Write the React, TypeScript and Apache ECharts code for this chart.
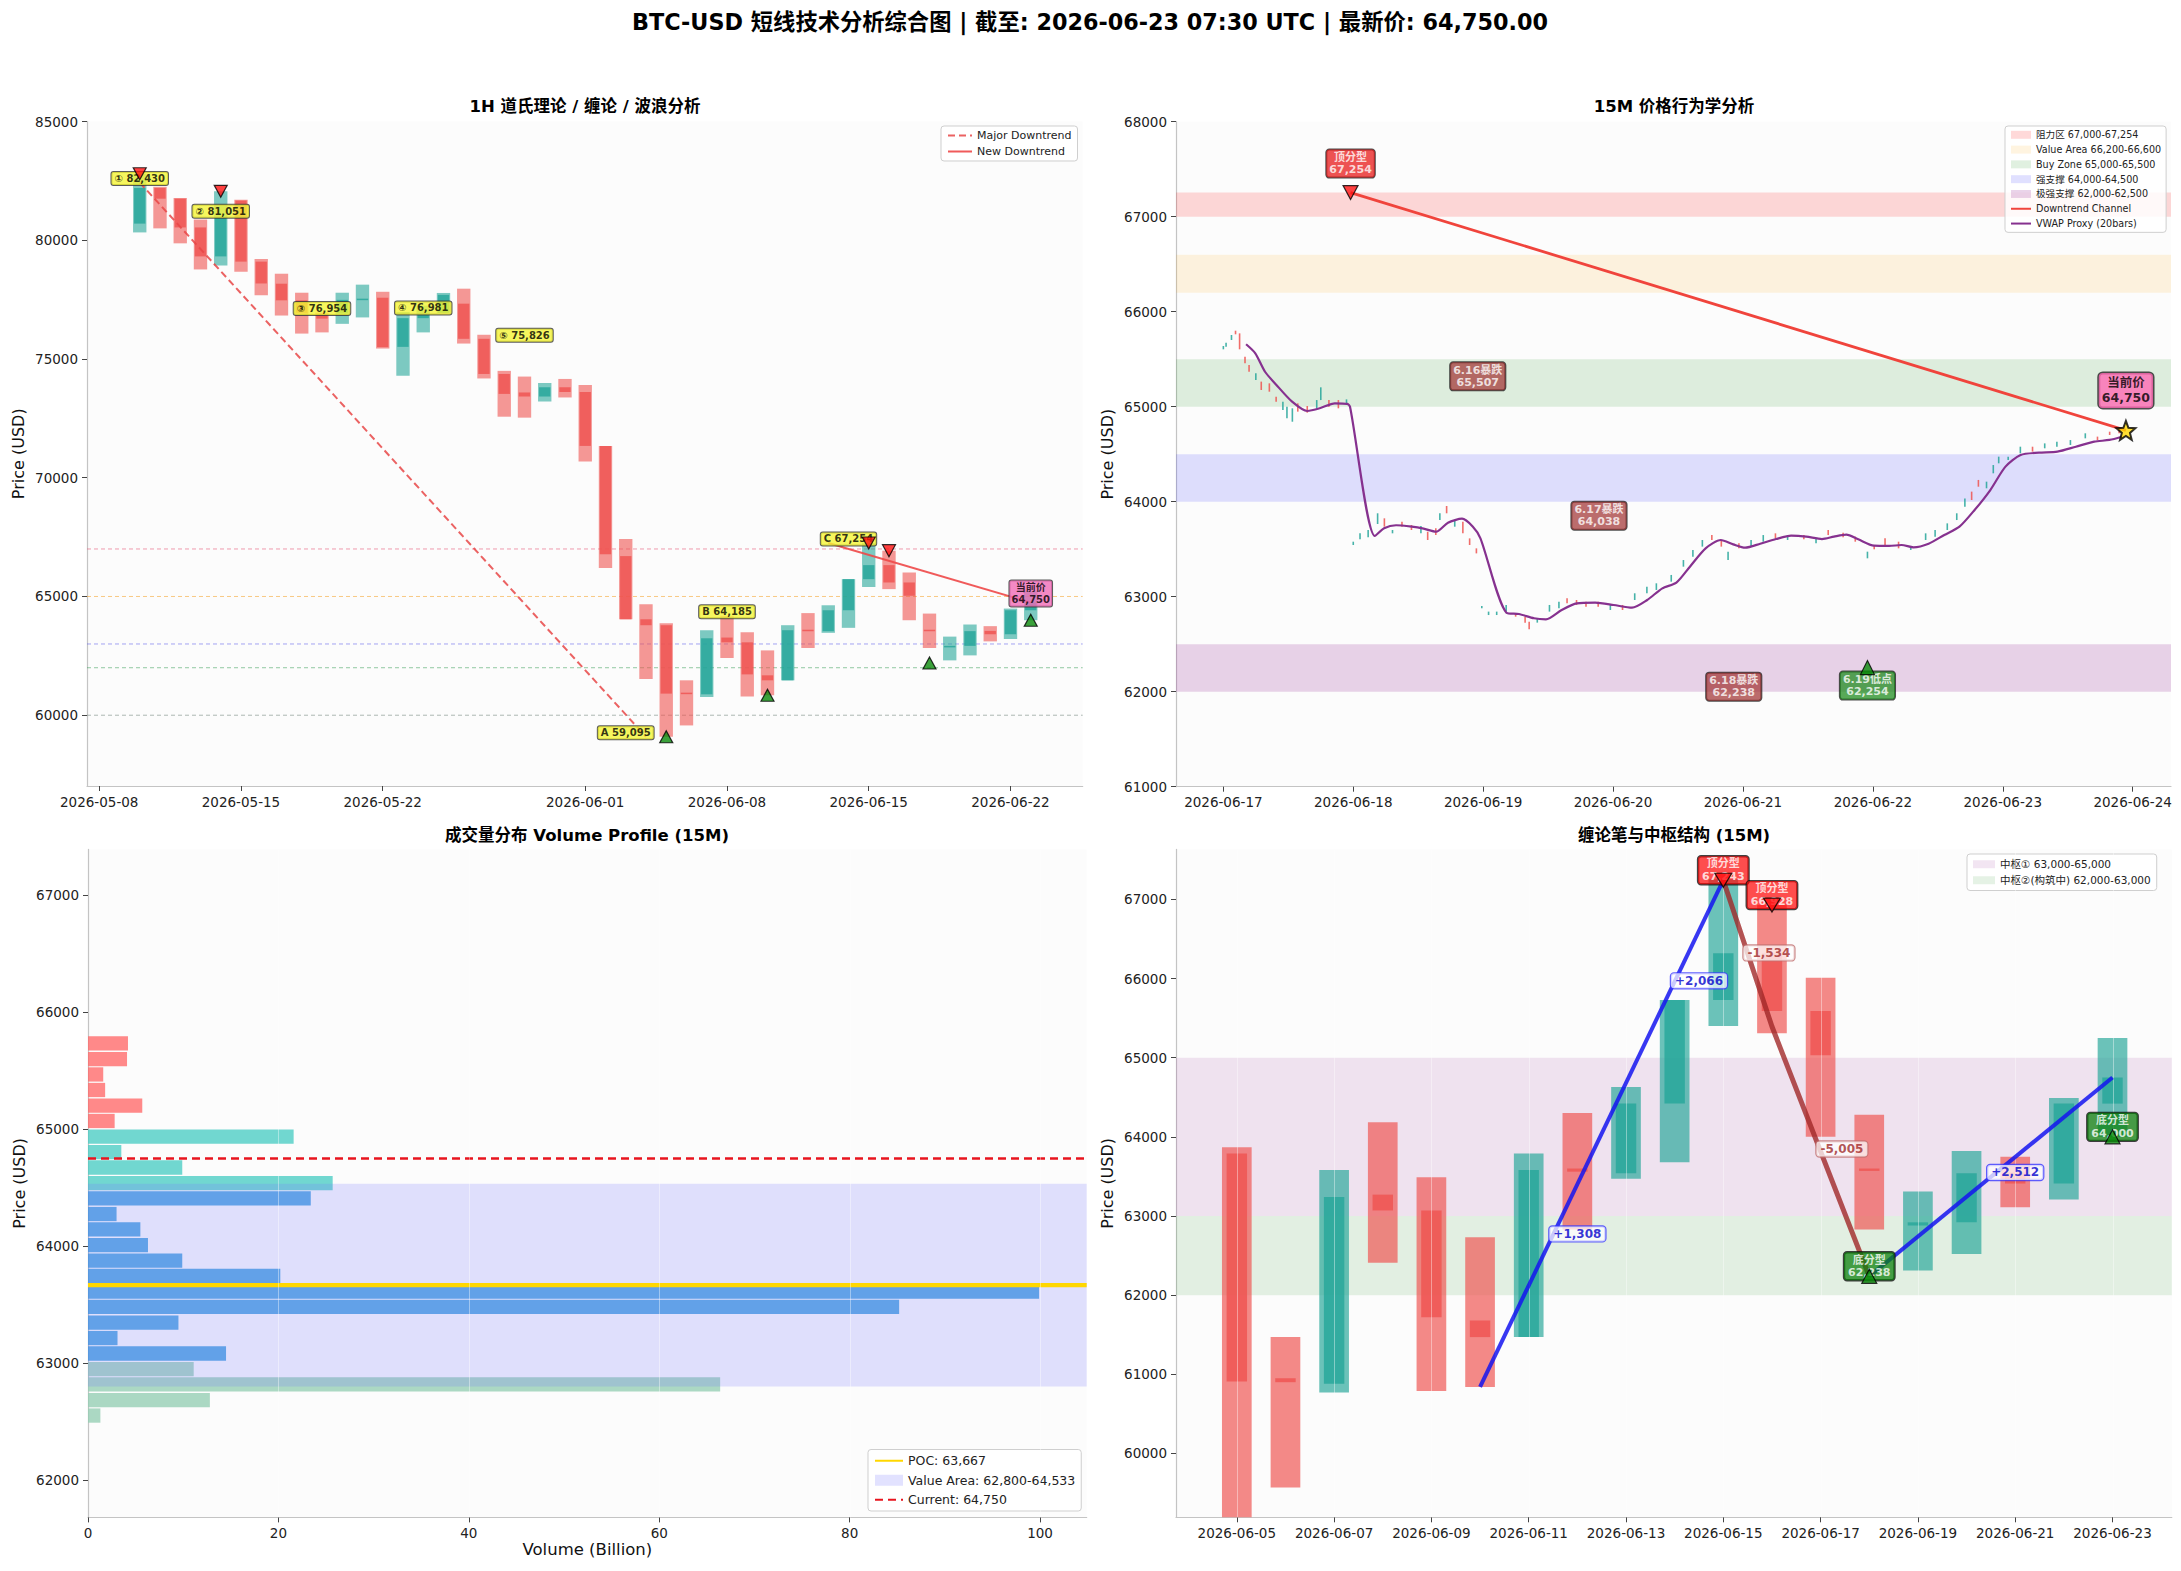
import React, { useEffect, useRef } from 'react';
import * as echarts from 'echarts';

const FONT = "'DejaVu Sans', 'Noto Sans CJK SC', sans-serif";

// ---------------- 1H panel: one candle per session ----------------
const dailyDates = [
  '2026-05-10', '2026-05-11', '2026-05-12', '2026-05-13', '2026-05-14', '2026-05-15', '2026-05-16', '2026-05-17',
  '2026-05-18', '2026-05-19', '2026-05-20', '2026-05-21', '2026-05-22', '2026-05-23', '2026-05-24', '2026-05-25',
  '2026-05-26', '2026-05-27', '2026-05-28', '2026-05-29', '2026-05-30', '2026-05-31', '2026-06-01', '2026-06-02',
  '2026-06-03', '2026-06-04', '2026-06-05', '2026-06-06', '2026-06-07', '2026-06-08', '2026-06-09', '2026-06-10',
  '2026-06-11', '2026-06-12', '2026-06-13', '2026-06-14', '2026-06-15', '2026-06-16', '2026-06-17', '2026-06-18',
  '2026-06-19', '2026-06-20', '2026-06-21', '2026-06-22', '2026-06-23',
];
const dailyOpen = [
  80700, 82200, 81750, 80540, 79320, 81670, 79100, 78170, 77470, 76900, 76930, 77500, 77580, 75510, 76720, 76940,
  77330, 75850, 74370, 73590, 73420, 73810, 73610, 71340, 66700, 64040, 63790, 60950, 60880, 63270, 63070, 61680,
  61470, 63600, 63540, 64420, 65730, 66320, 65590, 63600, 62880, 62920, 63550, 63410, 64420,
];
const dailyClose = [
  82200, 81750, 80540, 79320, 80940, 79100, 78180, 77470, 76950, 76700, 77490, 77540, 75500, 76720, 76860, 77700,
  75850, 74370, 73530, 73420, 73810, 73610, 71340, 66780, 64040, 63790, 60910, 60900, 63240, 63070, 61720, 61470,
  63580, 63560, 64420, 65730, 66320, 65590, 65030, 63570, 62920, 63540, 63410, 64420, 64750,
];
const dailyHigh = [
  82800, 82250, 81780, 80870, 82060, 81700, 79210, 78590, 77790, 76950, 77790, 78130, 77830, 76980, 77250, 77780,
  77960, 76020, 74500, 74260, 73990, 74160, 73910, 71340, 67420, 64670, 63870, 61470, 63580, 64185, 63490, 62730,
  63790, 64300, 64630, 65730, 67254, 66928, 66010, 64280, 63310, 63820, 63750, 64490, 65250,
];
const dailyLow = [
  80330, 80500, 79870, 78770, 78940, 78670, 77680, 76830, 76070, 76120, 76480, 76750, 75440, 74290, 76120, 76940,
  75650, 74180, 72570, 72530, 73210, 73380, 70680, 66200, 64040, 61530, 59095, 59570, 60770, 62410, 60790, 60840,
  61470, 62830, 63470, 63680, 65400, 65310, 64000, 62830, 62310, 62520, 63110, 63210, 64000,
];

const refLevels = [67000, 65000, 63000, 62000, 60000];
const waveTags = ['①', '②', '③', '④', '⑤', 'A', 'B', 'C'];
const waveDates = ['2026-05-10', '2026-05-14', '2026-05-19', '2026-05-24', '2026-05-29', '2026-06-03', '2026-06-08', '2026-06-14'];
const wavePrices = [82430, 81051, 76954, 76981, 75826, 59095, 64185, 67254];
const swingHighDates = ['2026-05-10', '2026-05-14', '2026-06-15', '2026-06-16'];
const swingHighPrices = [82800, 82060, 67254, 66928];
const swingLowDates = ['2026-06-05', '2026-06-10', '2026-06-18', '2026-06-23'];
const swingLowPrices = [59095, 60840, 62200, 64000];
const majorTrend: [string, number][] = [['2026-05-10', 82430], ['2026-06-04', 59095]];
const newTrend: [string, number][] = [['2026-06-13', 67254], ['2026-06-23', 64750]];
const LAST_DATE = '2026-06-23';
const LAST_PRICE = 64750;

// ---------------- 15M panel ----------------
const LTF_START = '2026-06-17 00:00';
// [hours from LTF_START, open, close]
const ltfBars: [number, number, number][] = [
  [0, 65604, 65639], [0.5, 65632, 65674], [1.5, 65702, 65755], [2.25, 65800, 65762], [3, 65772, 65604],
  [4, 65527, 65457], [4.75, 65439, 65369], [6, 65281, 65351], [7, 65264, 65176], [8.5, 65246, 65158],
  [9.75, 65106, 65053], [11, 64965, 65053], [11.75, 64878, 65000], [12.75, 64842, 64983], [13.75, 65035, 64948],
  [15.5, 65007, 64937], [17.25, 64983, 65070], [18, 65070, 65204], [19.5, 65070, 65000], [21.25, 65070, 64983],
  [22.75, 65028, 65077], [24, 63544, 63579], [25.25, 63604, 63667], [26.75, 63625, 63702], [28.5, 63765, 63878],
  [29.75, 63825, 63737], [31.25, 63667, 63702], [33, 63790, 63737], [34.75, 63755, 63702], [36.5, 63667, 63744],
  [37.75, 63684, 63597], [39.25, 63720, 63649], [40, 63807, 63878], [41.25, 63955, 63878], [42.75, 63737, 63807],
  [44.25, 63790, 63667], [45.5, 63614, 63544], [46.75, 63509, 63456], [47.75, 62878, 62902], [49, 62807, 62843],
  [50.5, 62807, 62843], [52.25, 62843, 62913], [54, 62825, 62790], [55.75, 62790, 62727], [56.5, 62737, 62657],
  [58, 62727, 62772], [60.25, 62843, 62913], [62, 62878, 62948], [63.5, 62983, 62930], [65.25, 62965, 62913],
  [67, 62948, 62895], [69.25, 62948, 62895], [71.5, 62860, 62913], [73.75, 62913, 62860], [76, 62965, 63036],
  [78.25, 63036, 63106], [80, 63071, 63141], [82.75, 63158, 63229], [85, 63316, 63386], [86.75, 63421, 63492],
  [88.5, 63527, 63597], [90.25, 63649, 63597], [92, 63597, 63527], [93.25, 63386, 63474], [95.25, 63562, 63509],
  [97.5, 63527, 63597], [99.75, 63579, 63649], [102, 63667, 63614], [104.25, 63597, 63649], [107.25, 63649, 63604],
  [109.5, 63562, 63614], [111.75, 63702, 63649], [114.5, 63674, 63625], [116.75, 63632, 63579], [119, 63404, 63474],
  [120.25, 63544, 63499], [122.25, 63614, 63544], [124.75, 63579, 63509], [127, 63492, 63534], [129.75, 63597, 63667],
  [131.5, 63632, 63702], [133.75, 63702, 63772], [135.5, 63807, 63878], [137, 63948, 64035], [138.25, 64106, 64018],
  [139.5, 64229, 64158], [141, 64141, 64211], [142.25, 64299, 64386], [143.25, 64404, 64474], [145, 64439, 64474],
  [147.25, 64509, 64579], [149.5, 64579, 64527], [151.75, 64562, 64614], [154, 64579, 64632], [156.5, 64597, 64649],
  [159.25, 64667, 64720], [161.5, 64685, 64649], [163.75, 64737, 64702], [165.5, 64772, 64720],
];
// [hours from LTF_START, value]
const vwapProxy: [number, number][] = [
  [4.2, 65657], [5.9, 65562], [7.7, 65368], [9.8, 65229], [12.7, 65053], [15.5, 64955], [17.8, 64983], [20.6, 65036],
  [22.9, 65029], [23.4, 65000], [28.0, 63639], [29.7, 63720], [31.9, 63752], [34.8, 63737], [37.0, 63716], [39.3, 63684],
  [41.5, 63779], [44.1, 63821], [46.1, 63737], [47.5, 63615], [52.3, 62832], [54.6, 62818], [57.4, 62773], [59.6, 62762],
  [62.5, 62860], [65.3, 62930], [68.7, 62937], [72.1, 62913], [75.5, 62884], [78.3, 62965], [81.1, 63088], [83.7, 63148],
  [86.2, 63316], [89.1, 63509], [91.9, 63597], [94.2, 63551], [96.4, 63516], [99.2, 63558], [102.1, 63607], [104.9, 63642],
  [107.7, 63632], [110.6, 63607], [112.8, 63632], [115.1, 63653], [117.3, 63604], [120.2, 63537], [123.0, 63534], [125.3, 63544],
  [127.5, 63520], [130.3, 63558], [133.2, 63650], [136.0, 63737], [138.8, 63913], [141.7, 64123], [144.5, 64369], [147.3, 64492],
  [150.7, 64516], [154.1, 64527], [157.5, 64579], [160.9, 64632], [163.7, 64650], [166.0, 64684],
];
const zoneNames = ['阻力区 67,000-67,254', 'Value Area 66,200-66,600', 'Buy Zone 65,000-65,500', '强支撑 64,000-64,500', '极强支撑 62,000-62,500'];
const zoneLow = [67000, 66200, 65000, 64000, 62000];
const zoneHigh = [67254, 66600, 65500, 64500, 62500];
const ltfTop: [number, number] = [23.5, 67254];
const ltfLow: [number, number] = [119, 62254];
const ltfLast: [number, number] = [166.75, 64750];
const crashTitles = ['6.16暴跌', '6.17暴跌', '6.18暴跌'];
const crashPrices = [65507, 64038, 62238];
const crashNoteAt: [number, number][] = [[47, 65320], [69.4, 63853], [94.3, 62053]];

// ---------------- Volume profile ----------------
const profilePrices = [
  65734, 65601, 65469, 65336, 65203, 65071, 64938, 64805, 64673, 64540, 64408, 64275, 64143,
  64010, 63877, 63745, 63612, 63480, 63347, 63214, 63082, 62949, 62817, 62684, 62551,
];
const profileVolumes = [
  4.2, 4.1, 1.6, 1.8, 5.7, 2.8, 21.6, 3.5, 9.9, 25.7, 23.4, 3.0, 5.5,
  6.3, 9.9, 20.2, 99.9, 85.2, 9.5, 3.1, 14.5, 11.1, 66.4, 12.8, 1.3,
];
const PROFILE_BIN = 132.6;
const POC = 63667;
const VA_LOW = 62800;
const VA_HIGH = 64533;
const RESIST_LINE = 65000;
const SUPPORT_LINE = 63000;

// ---------------- Chan structure panel ----------------
const CHAN_FROM = '2026-06-05';
const pivotNames = ['中枢① 63,000-65,000', '中枢②(构筑中) 62,000-63,000'];
const pivotLow = [63000, 62000];
const pivotHigh = [65000, 63000];
const biUp1: [string, number][] = [['2026-06-10', 60840], ['2026-06-15', 67243]];
const biDown: [string, number][] = [['2026-06-15', 67243], ['2026-06-16', 65394], ['2026-06-18', 62238]];
const biUp2: [string, number][] = [['2026-06-18', 62238], ['2026-06-23', 64750]];
const topFxDates = ['2026-06-15', '2026-06-16'];
const topFxPrices = [67243, 66928];
const botFxDates = ['2026-06-18', '2026-06-23'];
const botFxPrices = [62238, 64000];
const biMoves = [1308, 2066, -1534, -5005, 2512];
const biMoveAt: [string, number][] = [
  ['2026-06-12 00:00', 62774], ['2026-06-14 12:00', 65971], ['2026-06-15 22:30', 66324],
  ['2026-06-17 10:30', 63846], ['2026-06-21 00:00', 63550],
];

// ---------------- axes ----------------
const p1XTicks = ['2026-05-08', '2026-05-15', '2026-05-22', '2026-06-01', '2026-06-08', '2026-06-15', '2026-06-22'];
const p1YTicks = [60000, 65000, 70000, 75000, 80000, 85000];
const p2XTicks = ['2026-06-17', '2026-06-18', '2026-06-19', '2026-06-20', '2026-06-21', '2026-06-22', '2026-06-23', '2026-06-24'];
const p2YTicks = [61000, 62000, 63000, 64000, 65000, 66000, 67000, 68000];
const p3XTicks = [0, 20, 40, 60, 80, 100];
const p3YTicks = [62000, 63000, 64000, 65000, 66000, 67000];
const p4XTicks = ['2026-06-05', '2026-06-07', '2026-06-09', '2026-06-11', '2026-06-13', '2026-06-15', '2026-06-17', '2026-06-19', '2026-06-21', '2026-06-23'];
const p4YTicks = [60000, 61000, 62000, 63000, 64000, 65000, 66000, 67000];

const day = (s: string): number => {
  const [d, t] = s.split(' ');
  const [Y, M, D] = d.split('-').map(Number);
  const [h, m] = t ? t.split(':').map(Number) : [0, 0];
  return Date.UTC(Y, M - 1, D, h, m) / 86400000;
};
const fmtDay = (v: number) => new Date(Math.round(v * 86400000)).toISOString().slice(0, 10);
const fmtNum = (v: number) => v.toLocaleString('en-US');
const ltfDay = (h: number) => day(LTF_START) + h / 24;

const P1_X = [day('2026-05-07 09:30'), day('2026-06-25 13:35')];
const P1_Y = [57020, 85000];
const P2_X = [day('2026-06-16 15:15'), day('2026-06-24 07:05')];
const P2_Y = [61000, 68000];
const P3_X = [0, 104.9];
const P3_Y = [61680, 67394];
const P4_X = [day('2026-06-03 18:00'), day('2026-06-24 05:15')];
const P4_Y = [59193, 67632];

const TEAL = '38,166,154';
const RED = '239,83,80';

function candleRender(bodyW: number, rangeW: number, outerA: number, innerA: number) {
  return (params: any, api: any) => {
    const x = api.value(0), o = api.value(1), c = api.value(2), l = api.value(3), h = api.value(4);
    const cs = params.coordSys;
    const top = Math.max(api.coord([x, h])[1], cs.y);
    const bot = Math.min(api.coord([x, l])[1], cs.y + cs.height);
    const cx = api.coord([x, o])[0];
    const yo = api.coord([x, o])[1];
    const yc = api.coord([x, c])[1];
    const wR = api.size([rangeW, 0])[0];
    const wB = api.size([bodyW, 0])[0];
    const rgb = c >= o ? TEAL : RED;
    return {
      type: 'group',
      children: [
        { type: 'rect', shape: { x: cx - wR / 2, y: top, width: wR, height: Math.max(bot - top, 1) }, style: { fill: `rgba(${rgb},${outerA})` } },
        { type: 'rect', shape: { x: cx - wB / 2, y: Math.min(yo, yc), width: wB, height: Math.max(Math.abs(yc - yo), 1.5) }, style: { fill: `rgba(${rgb},${innerA})` } },
      ],
    };
  };
}

function bandRender(color: string) {
  return (params: any, api: any) => {
    const cs = params.coordSys;
    const y0 = api.coord([api.value(0), api.value(1)])[1];
    const y1 = api.coord([api.value(0), api.value(2)])[1];
    return { type: 'rect', shape: { x: cs.x, y: y1, width: cs.width, height: y0 - y1 }, style: { fill: color } };
  };
}

// light vertical grid lines that sit over the marks
const gridLineSeries = (gi: number, xs: number[], yRef: number) => ({
  type: 'custom', xAxisIndex: gi, yAxisIndex: gi, z: 7, silent: true,
  encode: { x: 0, y: 1 },
  data: xs.map((x) => [x, yRef]),
  renderItem: (params: any, api: any) => {
    const cs = params.coordSys;
    const px = Math.round(api.coord([api.value(0), api.value(1)])[0]) + 0.5;
    return { type: 'line', shape: { x1: px, y1: cs.y, x2: px, y2: cs.y + cs.height }, style: { stroke: 'rgba(255,255,255,0.4)', lineWidth: 1 } };
  },
});

const axisCommon = (gridIndex: number, range: number[], ticks: number[], fmt: (v: number) => string) => ({
  type: 'value',
  gridIndex,
  min: range[0],
  max: range[1],
  axisLine: { show: true, onZero: false, lineStyle: { color: '#c4c4c4', width: 1.2 } },
  axisTick: { show: true, length: 5, lineStyle: { color: '#444', width: 1 }, customValues: ticks },
  axisLabel: { show: true, color: '#222', fontSize: 13.5, fontFamily: FONT, customValues: ticks, formatter: fmt, margin: 9 },
  splitLine: { show: false },
});

const xDateAxis = (gi: number, range: number[], ticks: string[]) =>
  axisCommon(gi, range, ticks.map((t) => day(t)), (v) => fmtDay(v));
const yPriceAxis = (gi: number, range: number[], ticks: number[]) => ({
  ...axisCommon(gi, range, ticks, (v) => String(Math.round(v))),
  name: 'Price (USD)',
  nameLocation: 'middle',
  nameGap: 61,
  nameRotate: 90,
  nameTextStyle: { fontSize: 16, color: '#111', fontFamily: FONT },
});

const noteSeries = (gi: number, z: number, data: any[], style: any) => ({
  type: 'scatter',
  xAxisIndex: gi,
  yAxisIndex: gi,
  z,
  silent: true,
  symbol: 'circle',
  symbolSize: 1,
  itemStyle: { color: 'rgba(0,0,0,0)' },
  data,
  label: {
    show: true,
    position: 'inside',
    formatter: (p: any) => p.name,
    fontFamily: FONT,
    fontWeight: 'bold',
    align: 'center',
    verticalAlign: 'middle',
    ...style,
  },
});

const markerSeries = (gi: number, z: number, data: number[][], down: boolean, color: string, size: number[]) => ({
  type: 'scatter',
  xAxisIndex: gi,
  yAxisIndex: gi,
  z,
  silent: true,
  symbol: 'triangle',
  symbolRotate: down ? 180 : 0,
  symbolSize: size,
  itemStyle: { color, borderColor: '#000', borderWidth: 1.2 },
  data,
});

const lineSeries = (gi: number, z: number, name: string | undefined, data: number[][], lineStyle: any) => ({
  name,
  type: 'line',
  xAxisIndex: gi,
  yAxisIndex: gi,
  z,
  silent: true,
  symbol: 'none',
  data,
  lineStyle,
  itemStyle: { color: lineStyle.color },
});

const REF_COLORS = ['rgba(232,90,120,0.6)', 'rgba(245,165,50,0.6)', 'rgba(90,90,235,0.55)', 'rgba(60,160,90,0.55)', 'rgba(110,130,120,0.55)'];
const ZONE_COLORS = ['rgba(255,0,0,0.15)', 'rgba(255,165,0,0.12)', 'rgba(0,128,0,0.12)', 'rgba(0,0,255,0.12)', 'rgba(128,0,128,0.17)'];
const PIVOT_COLORS = ['rgba(128,0,128,0.1)', 'rgba(0,128,0,0.1)'];
const VA_COLOR = 'rgba(120,120,255,0.21)';

const profileColor = (p: number) => {
  if (p >= RESIST_LINE) return 'rgba(255,107,107,0.8)';
  if (p > VA_HIGH) return 'rgba(78,205,196,0.8)';
  if (p >= SUPPORT_LINE) return 'rgba(52,152,219,0.8)';
  return 'rgba(150,206,180,0.8)';
};

const legendBase = {
  orient: 'vertical',
  align: 'left',
  backgroundColor: 'rgba(255,255,255,0.85)',
  borderColor: '#cfcfcf',
  borderWidth: 1,
  borderRadius: 3,
  selectedMode: false,
};
// legend entry for a line: keep the stroke, hide the marker dot
const lineEntry = (name: string) => ({ name, itemStyle: { opacity: 0 } });
const patchEntry = (name: string) => ({ name, icon: 'rect' });

function buildOption() {
  const daily = dailyDates.map((d, i) => [day(d), dailyOpen[i], dailyClose[i], dailyLow[i], dailyHigh[i]]);
  const chanStart = dailyDates.indexOf(CHAN_FROM);
  const chanDaily = daily.slice(chanStart);

  const series: any[] = [];

  // ---- panel 1 ----
  refLevels.forEach((v, i) => {
    series.push(lineSeries(0, 1, undefined, [[P1_X[0], v], [P1_X[1], v]], { color: REF_COLORS[i], width: 1, type: [4, 3] }));
  });
  series.push({
    type: 'custom', xAxisIndex: 0, yAxisIndex: 0, z: 2, silent: true,
    renderItem: candleRender(0.56, 0.66, 0.6, 0.82),
    encode: { x: 0, y: [1, 2, 3, 4] },
    data: daily,
  });
  series.push(lineSeries(0, 3, 'Major Downtrend', majorTrend.map(([d, v]) => [day(d), v]), { color: 'rgba(232,70,70,0.85)', width: 2, type: [7, 4] }));
  series.push(lineSeries(0, 3, 'New Downtrend', newTrend.map(([d, v]) => [day(d), v]), { color: 'rgba(238,72,72,0.9)', width: 2 }));
  series.push(noteSeries(0, 4,
    waveDates.map((d, i) => ({ value: [day(d), wavePrices[i]], name: `${waveTags[i]} ${fmtNum(wavePrices[i])}` })),
    { backgroundColor: '#f4f436', borderColor: '#333', borderWidth: 1, borderRadius: 2, padding: [2, 3, 1, 3], color: '#000', fontSize: 10, offset: [0, -4] }));
  series.push(noteSeries(0, 4,
    [{ value: [day(LAST_DATE), LAST_PRICE], name: `当前价\n${fmtNum(LAST_PRICE)}` }],
    { backgroundColor: '#f06cb6', borderColor: '#333', borderWidth: 1, borderRadius: 2, padding: [2, 2, 1, 2], color: '#000', fontSize: 10, lineHeight: 11.5, offset: [0, -9] }));
  series.push(markerSeries(0, 5, swingHighDates.map((d, i) => [day(d), swingHighPrices[i]]), true, '#ff1010', [13, 12]));
  series.push(markerSeries(0, 5, swingLowDates.map((d, i) => [day(d), swingLowPrices[i]]), false, '#0a8a0a', [13, 12]));

  // ---- panel 2 ----
  zoneNames.forEach((n, i) => {
    series.push({
      name: n, type: 'custom', xAxisIndex: 1, yAxisIndex: 1, z: 1, silent: true,
      itemStyle: { color: ZONE_COLORS[i] },
      renderItem: bandRender(ZONE_COLORS[i]),
      encode: { x: 0, y: [1, 2] },
      data: [[P2_X[0], zoneLow[i], zoneHigh[i]]],
    });
  });
  series.push({
    type: 'custom', xAxisIndex: 1, yAxisIndex: 1, z: 2, silent: true,
    renderItem: (params: any, api: any) => {
      const x = api.value(0), o = api.value(1), c = api.value(2);
      const p0 = api.coord([x, o]);
      const p1 = api.coord([x, c]);
      return {
        type: 'rect',
        shape: { x: p0[0] - 0.8, y: Math.min(p0[1], p1[1]), width: 1.6, height: Math.max(Math.abs(p1[1] - p0[1]), 1) },
        style: { fill: `rgba(${c >= o ? TEAL : RED},0.85)` },
      };
    },
    encode: { x: 0, y: [1, 2] },
    data: ltfBars.map(([h, o, c]) => [ltfDay(h), o, c]),
  });
  series.push({
    ...lineSeries(1, 3, 'VWAP Proxy (20bars)', vwapProxy.map(([h, v]) => [ltfDay(h), v]), { color: '#86318f', width: 2.2 }),
    smooth: 0.25,
  });
  series.push(lineSeries(1, 3, 'Downtrend Channel', [[ltfDay(ltfTop[0]), ltfTop[1]], [ltfDay(ltfLast[0]), ltfLast[1]]], { color: '#f0443c', width: 2.8 }));
  series.push(noteSeries(1, 4,
    [{ value: [ltfDay(ltfTop[0]), ltfTop[1]], name: `顶分型\n${fmtNum(ltfTop[1])}` }],
    { backgroundColor: 'rgba(232,22,22,0.92)', borderColor: '#222', borderWidth: 1, borderRadius: 3, padding: [2, 3, 1, 3], color: '#fff', fontSize: 11, lineHeight: 12.5, offset: [0, -29] }));
  series.push(noteSeries(1, 4,
    crashTitles.map((t, i) => ({ value: [ltfDay(crashNoteAt[i][0]), crashNoteAt[i][1]], name: `${t}\n${fmtNum(crashPrices[i])}` })),
    { backgroundColor: 'rgba(160,48,48,0.88)', borderColor: '#222', borderWidth: 1, borderRadius: 3, padding: [2, 3, 1, 3], color: '#fff', fontSize: 11, lineHeight: 12.5 }));
  series.push(noteSeries(1, 4,
    [{ value: [ltfDay(ltfLow[0]), ltfLow[1]], name: `6.19低点\n${fmtNum(ltfLow[1])}` }],
    { backgroundColor: 'rgba(30,140,30,0.92)', borderColor: '#222', borderWidth: 1, borderRadius: 3, padding: [2, 3, 1, 3], color: '#fff', fontSize: 11, lineHeight: 12.5, offset: [0, 18] }));
  series.push(noteSeries(1, 4,
    [{ value: [ltfDay(ltfLast[0]), ltfLast[1]], name: `当前价\n${fmtNum(ltfLast[1])}` }],
    { backgroundColor: '#ff69b4', borderColor: '#222', borderWidth: 1.5, borderRadius: 4, padding: [3, 3, 2, 3], color: '#000', fontSize: 12.5, lineHeight: 15, offset: [0, -40] }));
  series.push(markerSeries(1, 5, [[ltfDay(ltfTop[0]), ltfTop[1]]], true, '#ff1010', [15, 14]));
  series.push(markerSeries(1, 5, [[ltfDay(ltfLow[0]), ltfLow[1]]], false, '#0a8a0a', [14, 14]));
  series.push({
    type: 'scatter', xAxisIndex: 1, yAxisIndex: 1, z: 5, silent: true,
    symbol: 'path://M12,1 L14.9,8.6 L23,9 L16.7,14.2 L18.8,22 L12,17.6 L5.2,22 L7.3,14.2 L1,9 L9.1,8.6 Z',
    symbolSize: 19,
    itemStyle: { color: '#ffd700', borderColor: '#000', borderWidth: 2 },
    data: [[ltfDay(ltfLast[0]), ltfLast[1]]],
  });

  // ---- panel 3 ----
  series.push({
    type: 'custom', xAxisIndex: 2, yAxisIndex: 2, z: 2, silent: true,
    renderItem: (params: any, api: any) => {
      const p = api.value(0), v = api.value(1);
      const a = api.coord([0, p + PROFILE_BIN * 0.46]);
      const b = api.coord([v, p - PROFILE_BIN * 0.46]);
      return { type: 'rect', shape: { x: a[0], y: a[1], width: b[0] - a[0], height: b[1] - a[1] }, style: { fill: profileColor(p) } };
    },
    encode: { x: 1, y: 0 },
    data: profilePrices.map((p, i) => [p, profileVolumes[i]]),
  });
  series.push({
    name: `Value Area: ${fmtNum(VA_LOW)}-${fmtNum(VA_HIGH)}`,
    type: 'custom', xAxisIndex: 2, yAxisIndex: 2, z: 3, silent: true,
    itemStyle: { color: VA_COLOR },
    renderItem: bandRender(VA_COLOR),
    encode: { x: 0, y: [1, 2] },
    data: [[P3_X[0], VA_LOW, VA_HIGH]],
  });
  series.push(lineSeries(2, 4, `POC: ${fmtNum(POC)}`, [[P3_X[0], POC], [P3_X[1], POC]], { color: '#ffd700', width: 4.2 }));
  series.push(lineSeries(2, 4, `Current: ${fmtNum(LAST_PRICE)}`, [[P3_X[0], LAST_PRICE], [P3_X[1], LAST_PRICE]], { color: '#e8141e', width: 2.6, type: [8, 5] }));
  series.push(gridLineSeries(2, p3XTicks.filter((v) => v > P3_X[0]), P3_Y[0]));

  // ---- panel 4 ----
  pivotNames.forEach((n, i) => {
    series.push({
      name: n, type: 'custom', xAxisIndex: 3, yAxisIndex: 3, z: 1, silent: true,
      itemStyle: { color: PIVOT_COLORS[i] },
      renderItem: bandRender(PIVOT_COLORS[i]),
      encode: { x: 0, y: [1, 2] },
      data: [[P4_X[0], pivotLow[i], pivotHigh[i]]],
    });
  });
  series.push({
    type: 'custom', xAxisIndex: 3, yAxisIndex: 3, z: 2, silent: true,
    renderItem: candleRender(0.42, 0.61, 0.68, 0.8),
    encode: { x: 0, y: [1, 2, 3, 4] },
    data: chanDaily,
  });
  series.push(gridLineSeries(3, p4XTicks.map((t) => day(t)), P4_Y[0]));
  series.push(lineSeries(3, 8, undefined, biUp1.map(([d, v]) => [day(d), v]), { color: 'rgba(20,20,240,0.85)', width: 4 }));
  series.push(lineSeries(3, 8, undefined, biDown.map(([d, v]) => [day(d), v]), { color: 'rgba(160,40,40,0.8)', width: 5 }));
  series.push(lineSeries(3, 8, undefined, biUp2.map(([d, v]) => [day(d), v]), { color: 'rgba(20,20,240,0.85)', width: 4 }));
  const moveLabel = (m: number) => `${m > 0 ? '+' : '-'}${fmtNum(Math.abs(m))}`;
  series.push(noteSeries(3, 9,
    biMoves.map((m, i) => ({ m, i })).filter((o) => o.m > 0).map(({ m, i }) => ({ value: [day(biMoveAt[i][0]), biMoveAt[i][1]], name: moveLabel(m) })),
    { backgroundColor: 'rgba(255,255,255,0.92)', borderColor: '#3a3aff', borderWidth: 1.2, borderRadius: 3, padding: [2, 4, 1, 4], color: '#0000cc', fontSize: 12 }));
  series.push(noteSeries(3, 9,
    biMoves.map((m, i) => ({ m, i })).filter((o) => o.m < 0).map(({ m, i }) => ({ value: [day(biMoveAt[i][0]), biMoveAt[i][1]], name: moveLabel(m) })),
    { backgroundColor: 'rgba(255,255,255,0.92)', borderColor: '#c07070', borderWidth: 1.2, borderRadius: 3, padding: [2, 4, 1, 4], color: '#a02828', fontSize: 12 }));
  series.push(noteSeries(3, 10,
    topFxDates.map((d, i) => ({ value: [day(d), topFxPrices[i]], name: `顶分型\n${fmtNum(topFxPrices[i])}` })),
    { backgroundColor: 'rgba(255,10,10,0.9)', borderColor: '#111', borderWidth: 1.2, borderRadius: 3, padding: [2, 4, 1, 4], color: '#fff', fontSize: 11, lineHeight: 12.5, offset: [0, -10] }));
  series.push(noteSeries(3, 10,
    botFxDates.map((d, i) => ({ value: [day(d), botFxPrices[i]], name: `底分型\n${fmtNum(botFxPrices[i])}` })),
    { backgroundColor: 'rgba(10,128,10,0.92)', borderColor: '#111', borderWidth: 1.2, borderRadius: 3, padding: [2, 4, 1, 4], color: '#fff', fontSize: 11, lineHeight: 12.5, offset: [0, -10] }));
  series.push(markerSeries(3, 11, topFxDates.map((d, i) => [day(d), topFxPrices[i]]), true, '#ff1010', [17, 14]));
  series.push(markerSeries(3, 11, botFxDates.map((d, i) => [day(d), botFxPrices[i]]), false, '#0a8a0a', [15, 14]));

  const titleText = (x: number, y: number, text: string, size: number) => ({
    type: 'text', x, y, silent: true,
    style: {
      text, fill: '#000', font: `bold ${size}px ${FONT}`,
      align: 'center', verticalAlign: 'middle', textAlign: 'center', textVerticalAlign: 'middle',
    },
  });

  return {
    animation: false,
    backgroundColor: '#ffffff',
    textStyle: { fontFamily: FONT },
    grid: [
      { left: 87, top: 121.5, width: 995.7, height: 664.5, show: true, backgroundColor: '#fcfcfc', borderWidth: 0 },
      { left: 1176, top: 121.7, width: 995, height: 665, show: true, backgroundColor: '#fcfcfc', borderWidth: 0 },
      { left: 88, top: 849.4, width: 998.7, height: 668, show: true, backgroundColor: '#fcfcfc', borderWidth: 0 },
      { left: 1176, top: 849.4, width: 995.8, height: 667.9, show: true, backgroundColor: '#fcfcfc', borderWidth: 0 },
    ],
    xAxis: [
      xDateAxis(0, P1_X, p1XTicks),
      xDateAxis(1, P2_X, p2XTicks),
      {
        ...axisCommon(2, P3_X, p3XTicks, (v) => String(v)),
        name: 'Volume (Billion)', nameLocation: 'middle', nameGap: 24,
        nameTextStyle: { fontSize: 16.5, color: '#111', fontFamily: FONT },
      },
      xDateAxis(3, P4_X, p4XTicks),
    ],
    yAxis: [
      yPriceAxis(0, P1_Y, p1YTicks),
      yPriceAxis(1, P2_Y, p2YTicks),
      yPriceAxis(2, P3_Y, p3YTicks),
      yPriceAxis(3, P4_Y, p4YTicks),
    ],
    legend: [
      {
        ...legendBase, left: 941, top: 126, padding: [4, 6], itemWidth: 24, itemHeight: 10, itemGap: 5,
        textStyle: { fontSize: 11, color: '#222', fontFamily: FONT },
        data: [lineEntry('Major Downtrend'), lineEntry('New Downtrend')],
      },
      {
        ...legendBase, left: 2005, top: 126, padding: [4, 5], itemWidth: 20, itemHeight: 8, itemGap: 5.2,
        textStyle: { fontSize: 9.6, color: '#222', fontFamily: FONT },
        data: [...zoneNames.map(patchEntry), lineEntry('Downtrend Channel'), lineEntry('VWAP Proxy (20bars)')],
      },
      {
        ...legendBase, left: 868, top: 1449.5, padding: [5, 6], itemWidth: 28, itemHeight: 11, itemGap: 7,
        textStyle: { fontSize: 12.5, color: '#222', fontFamily: FONT },
        data: [
          lineEntry(`POC: ${fmtNum(POC)}`),
          patchEntry(`Value Area: ${fmtNum(VA_LOW)}-${fmtNum(VA_HIGH)}`),
          lineEntry(`Current: ${fmtNum(LAST_PRICE)}`),
        ],
      },
      {
        ...legendBase, left: 1967, top: 854, padding: [5, 6], itemWidth: 22, itemHeight: 8, itemGap: 5.5,
        textStyle: { fontSize: 10.5, color: '#222', fontFamily: FONT },
        data: pivotNames.map(patchEntry),
      },
    ],
    graphic: [
      titleText(1090, 22, 'BTC-USD 短线技术分析综合图 | 截至: 2026-06-23 07:30 UTC | 最新价: 64,750.00', 22.3),
      titleText(585, 106, '1H 道氏理论 / 缠论 / 波浪分析', 16.5),
      titleText(1674, 106, '15M 价格行为学分析', 16.5),
      titleText(587, 835, '成交量分布 Volume Profile (15M)', 16.5),
      titleText(1674, 835, '缠论笔与中枢结构 (15M)', 16.5),
    ],
    series,
  };
}

export default function App() {
  const ref = useRef<HTMLDivElement>(null);
  useEffect(() => {
    if (!ref.current) return;
    const chart = echarts.init(ref.current, null, { renderer: 'svg' });
    chart.setOption(buildOption() as any);
    return () => chart.dispose();
  }, []);
  return (
    <div
      ref={ref}
      style={{ position: 'absolute', left: 0, top: 0, width: 2181, height: 1571, background: '#ffffff' }}
    />
  );
}
